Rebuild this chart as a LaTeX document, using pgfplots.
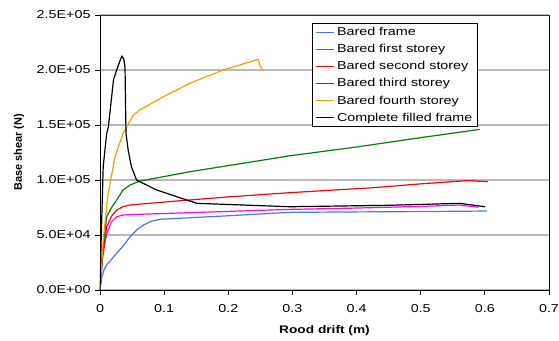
\documentclass[border=0pt]{standalone}
\usepackage{pgfplots}
\pgfplotsset{compat=1.18}
\usepackage{fontspec}
\setmainfont{Liberation Sans}[FakeStretch=1.25]
\newfontfamily\plainfont{Liberation Sans}
\definecolor{cblue}{RGB}{70,115,255}
\definecolor{cmag}{RGB}{255,0,255}
\definecolor{cred}{RGB}{255,0,0}
\definecolor{cgreen}{RGB}{0,128,0}
\definecolor{corange}{RGB}{255,153,0}
\begin{document}
\begin{tikzpicture}[x=1bp,y=1bp]
\path[use as bounding box] (-100,-50) rectangle (459,290);
\begin{axis}[
  at={(0,0)}, anchor=south west,
  scale only axis, width=449bp, height=275bp,
  xmin=0, xmax=0.7, ymin=0, ymax=250000,
  xtick={0,0.1,0.2,0.3,0.4,0.5,0.6,0.7},
  xticklabels={0,0.1,0.2,0.3,0.4,0.5,0.6,0.7},
  ytick={0,50000,100000,150000,200000,250000},
  yticklabels={0.0E+00,5.0E+04,1.0E+05,1.5E+05,2.0E+05,2.5E+05},
  scaled y ticks=false,
  tick align=outside, tick pos=left,
  major tick length=5bp,
  tick style={black, line width=0.8bp},
  ymajorgrids, grid style={gray!55, line width=1.2bp},
  axis line style={black, line width=0.8bp},
  ticklabel style={font=\fontsize{11.5}{13}\selectfont},
  xticklabel style={yshift=-6bp},
  yticklabel style={xshift=-1bp},
  xlabel={\bfseries Rood drift (m)},
  ylabel={\plainfont\bfseries Base shear (N)},
  label style={font=\fontsize{11}{13}\selectfont},
  xlabel style={at={(axis description cs:0.5,0)}, anchor=center, yshift=-41bp},
  ylabel style={at={(axis description cs:0,0.5)}, anchor=center, rotate=0, yshift=81bp},
  legend style={at={(rel axis cs:0.472,0.971)}, anchor=north west,
    draw=black, line width=0.8bp, font=\fontsize{11.5}{13}\selectfont,
    row sep=3.3bp, inner xsep=3.5bp, inner ysep=2bp},
  legend cell align=left,
  legend image code/.code={\draw[#1, line width=1.2bp] (0bp,0bp) -- (18bp,0bp);},
  every axis plot/.append style={line width=1.2bp, line join=round},
]
\addplot[cblue] coordinates {(0,0) (0.003,12000) (0.006,18000) (0.0104,22700) (0.018,28000) (0.026,33400) (0.036,40000) (0.047,48500) (0.058,55000) (0.068,59100) (0.08,62500) (0.094,64300) (0.14,65700) (0.2,67500) (0.296,70600) (0.4,71000) (0.5,71300) (0.603,71800)};
\addlegendentry{Bared frame}
\addplot[cmag] coordinates {(0,0) (0.004,30000) (0.0104,51500) (0.018,62000) (0.026,66600) (0.036,68200) (0.06,68800) (0.14,70300) (0.296,73300) (0.4,74500) (0.5,76000) (0.561,77300) (0.590,75200)};
\addlegendentry{Bared first storey}
\addplot[cred] coordinates {(0,0) (0.004,30000) (0.0104,57500) (0.018,67000) (0.026,72700) (0.036,75800) (0.047,77300) (0.088,79400) (0.192,84300) (0.296,88500) (0.426,93000) (0.5,96500) (0.572,99400) (0.605,98500)};
\addlegendentry{Bared second storey}
\addplot[cgreen] coordinates {(0,0) (0.004,35000) (0.0104,66600) (0.018,75000) (0.026,81800) (0.036,91000) (0.047,95500) (0.062,99000) (0.14,107500) (0.296,122000) (0.4,130000) (0.5,138500) (0.592,146000)};
\addlegendentry{Bared third storey}
\addplot[corange] coordinates {(0,0) (0.005,45000) (0.012,85000) (0.0234,121000) (0.036,142400) (0.052,159000) (0.062,163600) (0.099,175700) (0.14,187900) (0.192,200000) (0.247,209700) (0.249,204500) (0.254,199400)};
\addlegendentry{Bared fourth storey}
\addplot[black] coordinates {(0,0) (0.002,50000) (0.005,112000) (0.0104,142400) (0.013,148000) (0.021,191000) (0.026,200000) (0.031,208000) (0.034,212700) (0.037,210000) (0.039,203000) (0.0405,142500) (0.044,127000) (0.049,112000) (0.057,100000) (0.088,91000) (0.151,78800) (0.296,75700) (0.45,77000) (0.561,78800) (0.600,75700)};
\addlegendentry{Complete filled frame}
\draw[black!80, line width=0.8bp] (rel axis cs:0,1) -- (rel axis cs:1,1) -- (rel axis cs:1,0);
\end{axis}
\end{tikzpicture}
\end{document}
